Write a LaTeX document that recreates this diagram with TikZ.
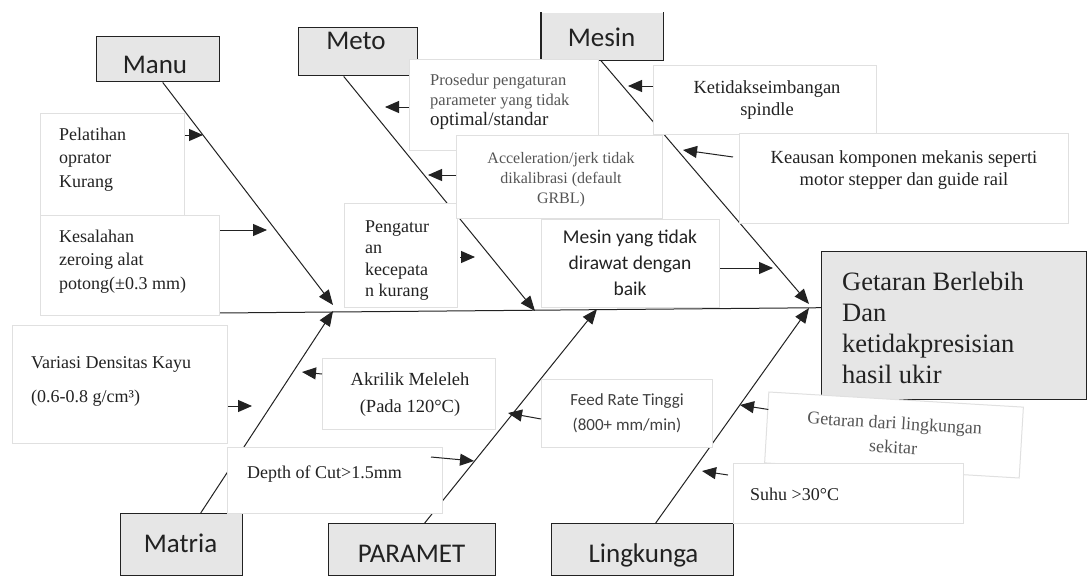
\documentclass[tikz,border=0pt]{standalone}
\usepackage{fontspec}
\setmainfont{Liberation Serif}
\newfontfamily\sansf{Carlito}
\usetikzlibrary{arrows.meta}
\definecolor{hdrfill}{HTML}{E6E6E6}
\definecolor{boxline}{HTML}{E0E0E0}
\definecolor{ink}{HTML}{222222}
\definecolor{soft}{HTML}{555555}
\tikzset{
  hdr/.style={draw=ink, line width=1.4pt, fill=hdrfill, inner sep=0pt, anchor=north west},
  hdrtext/.style={font=\sansf\fontsize{27}{30}\selectfont, text=ink, inner sep=0pt, anchor=base},
  cbox/.style={draw=boxline, line width=1pt, fill=white, inner sep=0pt, anchor=north west},
  bone/.style={draw=ink, line width=1pt, -{Triangle[length=15pt,width=12pt]}},
  feeder/.style={draw=ink, line width=1pt, -{Triangle[length=14pt,width=12pt]}},
  lt/.style={inner sep=0pt, align=left, anchor=base west, text=ink},
  ct/.style={inner sep=0pt, align=center, anchor=base, text=ink},
}
\begin{document}
\begin{tikzpicture}[x=1pt,y=-1pt]
\useasboundingbox (0,0) rectangle (1087,576);
\fill[white] (0,0) rectangle (1087,576);

% bone tips and arrow tips
\coordinate (tManu) at (333,305);
\coordinate (tMatria) at (333,311);
\coordinate (tMeto) at (535,311);
\coordinate (tParam) at (597,309);
\coordinate (tMesin) at (809,304);
\coordinate (tLing) at (809,308);
\coordinate (spineL) at (219,313);
\coordinate (aPel) at (203,135);
\coordinate (aKes) at (267,230);
\coordinate (aPeng) at (475,257);
\coordinate (aPro) at (385,107);
\coordinate (aAcc) at (428,175);
\coordinate (aMes) at (773,268);
\coordinate (aKeti) at (628,86);
\coordinate (aKeau) at (683,150);
\coordinate (aVar) at (252,406);
\coordinate (aAkr) at (302,372);
\coordinate (aDep) at (474,461);
\coordinate (aFeed) at (508,413);
\coordinate (aGet) at (740,405);
\coordinate (aSuhu) at (702,471);

% header boxes
\node[hdr, minimum width=123pt, minimum height=45pt] (manu) at (96,36) {};
\node[hdr, minimum width=119pt, minimum height=48pt] (meto) at (298,27) {};
\node[hdr, draw=none, minimum width=121pt, minimum height=47pt] (mesin) at (541,12) {};
\draw[ink, line width=1.4pt] (mesin.north west) -- (mesin.south west) -- (mesin.south east) -- (mesin.north east);
\node[hdr, minimum width=122pt, minimum height=62pt] (matria) at (120,513) {};
\node[hdr, minimum width=167pt, minimum height=52pt] (param) at (328,523) {};
\node[hdr, minimum width=182pt, minimum height=52pt] (ling) at (551,523) {};
\node[hdr, minimum width=265pt, minimum height=148pt] (eff) at (821,251) {};

% spine and bones
\draw[ink, line width=1pt] (spineL) -- ([yshift=18pt]eff.west);
\draw[bone] ([xshift=4.5pt]manu.south) -- (tManu);
\draw[bone] ([xshift=-14.5pt]meto.south) -- (tMeto);
\draw[bone] ([xshift=-1.5pt]mesin.south) -- (tMesin);
\draw[bone] ([xshift=19pt]matria.north) -- (tMatria);
\draw[bone] ([xshift=12.5pt]param.north) -- (tParam);
\draw[bone] ([xshift=13pt]ling.north) -- (tLing);

% cause boxes
\node[cbox, minimum width=144pt, minimum height=102pt] (pel) at (40,113) {};
\node[cbox, minimum width=179pt, minimum height=100pt] (kes) at (40,215) {};
\node[cbox, minimum width=113pt, minimum height=104pt] (peng) at (344,203) {};
\node[cbox, minimum width=189pt, minimum height=91pt] (pro) at (409,59) {};
\node[cbox, minimum width=206pt, minimum height=83pt] (acc) at (456,135) {};
\node[cbox, minimum width=178pt, minimum height=88pt] (mes) at (541,219) {};
\node[cbox, minimum width=223pt, minimum height=69pt] (keti) at (653,65) {};
\node[cbox, minimum width=329pt, minimum height=90pt] (keau) at (739,133) {};
\node[cbox, minimum width=215pt, minimum height=118pt] (var) at (12,325) {};
\node[cbox, minimum width=173pt, minimum height=71pt] (akr) at (322,358) {};
\node[cbox, minimum width=215pt, minimum height=66pt] (dep) at (227,447) {};
\node[cbox, minimum width=171pt, minimum height=68pt] (feed) at (541,379) {};
\node[cbox, anchor=center, rotate=-3.4, minimum width=255pt, minimum height=71pt,
      align=center, text=soft, font=\fontsize{18}{24}\selectfont] (get) at (894,435)
      {Getaran dari lingkungan\\sekitar};
\node[cbox, minimum width=230pt, minimum height=60pt] (suhu) at (733,463) {};

% feeder arrows
\draw[feeder] ([yshift=-22pt]pel.north east) -- (aPel);
\draw[feeder] ([yshift=-15pt]kes.north east) -- (aKes);
\draw[feeder] ([xshift=2pt,yshift=-54pt]peng.north east) -- (aPeng);
\draw[feeder] ([yshift=-48pt]pro.north west) -- (aPro);
\draw[feeder] ([yshift=-40pt]acc.north west) -- (aAcc);
\draw[feeder] ([yshift=-49pt]mes.north east) -- (aMes);
\draw[feeder] ([yshift=-21pt]keti.north west) -- (aKeti);
\draw[feeder] ([xshift=-6pt,yshift=-24pt]keau.north west) -- (aKeau);
\draw[feeder] ([yshift=-81pt]var.north east) -- (aVar);
\draw[feeder] ([yshift=-16pt]akr.north west) -- (aAkr);
\draw[feeder] ([xshift=-12pt,yshift=-10pt]dep.north east) -- (aDep);
\draw[feeder] ([yshift=-40pt]feed.north west) -- (aFeed);
\draw[feeder] ([yshift=-18pt]get.north west) -- (aGet);
\draw[feeder] ([xshift=-5pt,yshift=-12pt]suhu.north west) -- (aSuhu);

% header texts
\node[hdrtext] (manuT) at (155,73) {Manu};
\node[hdrtext] (metoT) at (356,49) {Meto};
\node[hdrtext] (mesinT) at (601.5,46) {Mesin};
\node[hdrtext] (matriaT) at (180.5,552) {Matria};
\node[hdrtext] (paramT) at (411.5,562) {PARAMET};
\node[hdrtext] (lingT) at (643.5,562) {Lingkunga};

% cause texts (anchor base = baseline of the last line)
\node[lt, font=\fontsize{18}{23.5}\selectfont] (pelT) at (59,187) {Pelatihan\\oprator\\Kurang};
\node[lt, font=\fontsize{18}{23.5}\selectfont] (kesT) at (59,289) {Kesalahan\\zeroing alat\\potong(±0.3 mm)};
\node[lt, font=\fontsize{18}{21.5}\selectfont] (pengT) at (365,296.5) {Pengatur\\an\\kecepata\\n kurang};
\node[lt, text=soft, font=\fontsize{16.5}{20}\selectfont] (proT) at (430,105) {Prosedur pengaturan\\parameter yang tidak};
\node[lt, font=\fontsize{19}{22}\selectfont] (proT2) at (430,125) {optimal/standar};
\node[ct, text=soft, font=\fontsize{16}{20}\selectfont] (accT) at (561,203) {Acceleration/jerk tidak\\dikalibrasi (default\\GRBL)};
\node[ct, font=\sansf\fontsize{19.5}{26}\selectfont] (mesT) at (630,295) {Mesin yang tidak\\dirawat dengan\\baik};
\node[ct, font=\fontsize{18.5}{22}\selectfont] (ketiT) at (767,115) {Ketidakseimbangan\\spindle};
\node[ct, font=\fontsize{18.5}{22}\selectfont] (keauT) at (904,185) {Keausan komponen mekanis seperti\\motor stepper dan guide rail};
\node[lt, font=\fontsize{26.5}{31}\selectfont] (effT) at (842,383) {Getaran Berlebih\\Dan\\ketidakpresisian\\hasil ukir};
\node[lt, font=\fontsize{18}{34}\selectfont] (varT) at (31,402) {Variasi Densitas Kayu\\(0.6-0.8 g/cm³)};
\node[ct, font=\fontsize{18.5}{27}\selectfont] (akrT) at (410,412) {Akrilik Meleleh\\(Pada 120°C)};
\node[lt, font=\fontsize{18}{22}\selectfont] (depT) at (247,478) {Depth of Cut>1.5mm};
\node[ct, text=black!75, font=\sansf\fontsize{17}{25}\selectfont] (feedT) at (627,430) {Feed Rate Tinggi\\(800+ mm/min)};
\node[lt, font=\fontsize{18}{22}\selectfont] (suhuT) at (750,500) {Suhu >30°C};
\end{tikzpicture}
\end{document}
